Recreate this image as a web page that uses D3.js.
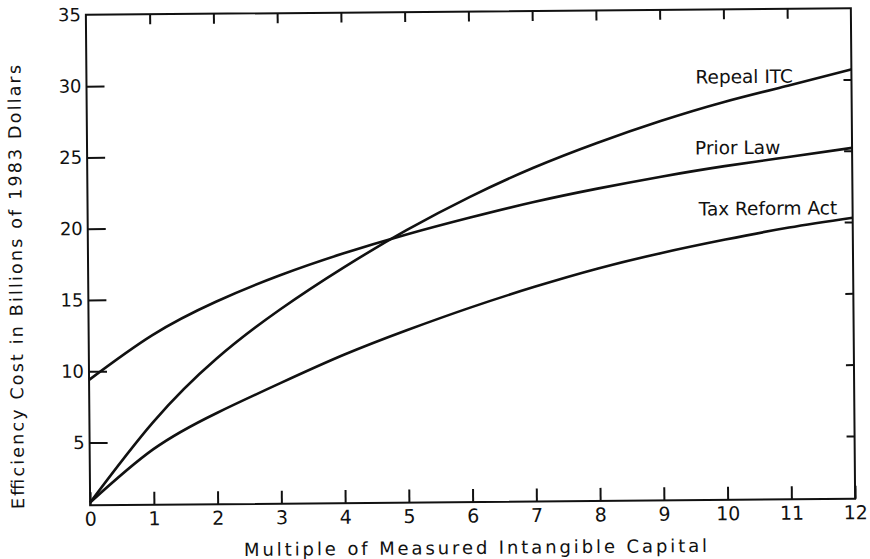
<!DOCTYPE html>
<html>
<head>
<meta charset="utf-8">
<script src="https://cdn.jsdelivr.net/npm/d3@7"></script>
<style>
  body { margin: 0; background: #fff; }
  svg { display: block; }
  text { font-family: "DejaVu Sans", sans-serif; fill: #111; }
</style>
</head>
<body>
<svg id="chart" width="870" height="559"></svg>
<script>
// values (billions of 1983 dollars)
var multiples = [0, 1, 2, 3, 4, 5, 6, 7, 8, 9, 10, 11, 12];
var repealITC = [0.8, 6.4, 10.8, 14.2, 17.1, 19.7, 22.0, 24.0, 25.7, 27.2, 28.5, 29.6, 30.7];
var priorLaw = [9.4, 12.5, 14.8, 16.6, 18.1, 19.4, 20.55, 21.6, 22.5, 23.3, 24.0, 24.6, 25.2];
var taxReformAct = [0.8, 4.5, 7.0, 9.05, 11.0, 12.7, 14.25, 15.65, 16.9, 17.95, 18.85, 19.65, 20.3];
var seriesNames = ["Repeal ITC", "Prior Law", "Tax Reform Act"];
var xTicks = [0, 1, 2, 3, 4, 5, 6, 7, 8, 9, 10, 11, 12];
var yTicks = [5, 10, 15, 20, 25, 30, 35];

var svg = d3.select("#chart");
var plotLeft = 88, plotRight = 853, plotTop = 11.5, plotBottom = 502;

var x = d3.scaleLinear().domain([0, 12]).range([plotLeft, plotRight]);
var y = d3.scaleLinear().domain([0.6, 35]).range([plotBottom, plotTop]);

// the scanned page is slightly tilted, so the whole chart is too
var g = svg.append("g").attr("transform", "rotate(-0.5, 470, 257)");

// frame
g.append("rect")
  .attr("x", plotLeft).attr("y", plotTop)
  .attr("width", plotRight - plotLeft).attr("height", plotBottom - plotTop)
  .attr("fill", "none").attr("stroke", "#111").attr("stroke-width", 2);

// left axis, ticks inward
var yAxis = g.append("g")
  .attr("transform", "translate(" + plotLeft + ",0)")
  .call(d3.axisLeft(y).tickValues(yTicks).tickSize(-18).tickPadding(5));
yAxis.selectAll(".tick line").filter(function(d) { return d == 35; }).remove();

// bottom axis
var xAxis = g.append("g")
  .attr("transform", "translate(0," + plotBottom + ")")
  .call(d3.axisBottom(x).tickValues(xTicks).tickSize(-13).tickPadding(7));

// top and right axes, ticks only
var topAxis = g.append("g")
  .attr("transform", "translate(0," + plotTop + ")")
  .call(d3.axisTop(x).tickValues(xTicks.slice(1, 12)).tickSize(-10).tickFormat(""));
var rightAxis = g.append("g")
  .attr("transform", "translate(" + plotRight + ",0)")
  .call(d3.axisRight(y).tickValues(yTicks.slice(0, 6)).tickSize(-8).tickFormat(""));

[yAxis, xAxis, topAxis, rightAxis].forEach(function(a) {
  a.select(".domain").remove();
  a.selectAll(".tick line").attr("stroke", "#111").attr("stroke-width", 2);
});
yAxis.selectAll(".tick text").attr("font-size", 18).style("font-family", "DejaVu Sans");
xAxis.selectAll(".tick text").attr("font-size", 19).style("font-family", "DejaVu Sans");

// curves
var line = d3.line()
  .x(function(d, i) { return x(multiples[i]); })
  .y(function(d) { return y(d); })
  .curve(d3.curveNatural);

[repealITC, priorLaw, taxReformAct].forEach(function(s) {
  g.append("path")
    .datum(s)
    .attr("d", line)
    .attr("fill", "none")
    .attr("stroke", "#111")
    .attr("stroke-width", 2.6);
});

// curve labels
var labelPos = [[697, 85.5], [696, 156.5], [699, 217.5]];
seriesNames.forEach(function(name, i) {
  g.append("text")
    .attr("x", labelPos[i][0]).attr("y", labelPos[i][1])
    .attr("font-size", 18.5)
    .text(name);
});

// axis titles
g.append("text")
  .attr("x", 473).attr("y", 554)
  .attr("text-anchor", "middle")
  .attr("font-size", 18)
  .attr("textLength", 463).attr("lengthAdjust", "spacing")
  .text("Multiple of Measured Intangible Capital");

g.append("text")
  .attr("transform", "translate(22,283) rotate(-90)")
  .attr("text-anchor", "middle")
  .attr("font-size", 17.5)
  .attr("textLength", 444).attr("lengthAdjust", "spacing")
  .text("Efficiency Cost in Billions of 1983 Dollars");
</script>
</body>
</html>
